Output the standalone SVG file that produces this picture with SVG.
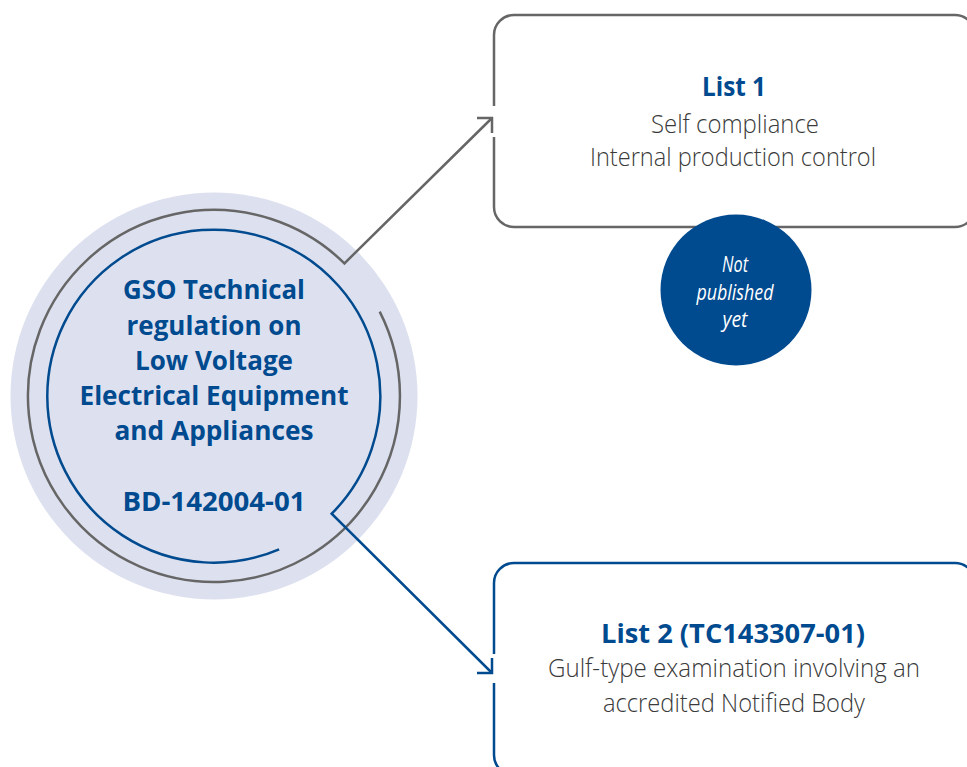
<svg xmlns="http://www.w3.org/2000/svg" width="967" height="767" viewBox="0 0 967 767">
<style>
  .bold{font-family:"Open Sans","Noto Sans",sans-serif;font-weight:700;fill:#004a8f;text-anchor:middle}
  .body{font-family:"Open Sans","Noto Sans",sans-serif;font-weight:300;fill:#3a3a3a;text-anchor:middle}
  .note{font-family:"Open Sans","Noto Sans",sans-serif;font-style:italic;fill:#ffffff;text-anchor:middle}
  .grayln{fill:none;stroke:#666666;stroke-width:2.5}
  .blueln{fill:none;stroke:#004a8f;stroke-width:2.5}
</style>
<rect width="967" height="767" fill="#ffffff"/>
<g id="main-circle">
  <circle cx="214" cy="396" r="203.5" fill="#dde1ef"/>
  <g font-size="27">
    <text class="bold" x="214" y="299" textLength="182" lengthAdjust="spacingAndGlyphs">GSO Technical</text>
    <text class="bold" x="214" y="335" textLength="175" lengthAdjust="spacingAndGlyphs">regulation on</text>
    <text class="bold" x="214" y="370" textLength="158" lengthAdjust="spacingAndGlyphs">Low Voltage</text>
    <text class="bold" x="214" y="405" textLength="269" lengthAdjust="spacingAndGlyphs">Electrical Equipment</text>
    <text class="bold" x="214" y="440" textLength="199" lengthAdjust="spacingAndGlyphs">and Appliances</text>
    <text class="bold" x="214" y="511" textLength="183" lengthAdjust="spacingAndGlyphs">BD-142004-01</text>
  </g>
</g>
<g id="list1">
  <path class="grayln" d="M494,106 V35 A20,20 0 0 1 514,15 H955 A20,20 0 0 1 975,35 V207 A20,20 0 0 1 955,227 H514 A20,20 0 0 1 494,207 V137"/>
  <text class="bold" x="734" y="96" font-size="27" textLength="64" lengthAdjust="spacingAndGlyphs">List 1</text>
  <text class="body" x="735" y="133" font-size="26" textLength="168" lengthAdjust="spacingAndGlyphs">Self compliance</text>
  <text class="body" x="733" y="166" font-size="26" textLength="286" lengthAdjust="spacingAndGlyphs">Internal production control</text>
</g>
<g id="not-published">
  <circle cx="736" cy="290" r="75.5" fill="#004a8f"/>
  <text class="note" x="735" y="272" font-size="22" textLength="26" lengthAdjust="spacingAndGlyphs">Not</text>
  <text class="note" x="735" y="299.5" font-size="22" textLength="77" lengthAdjust="spacingAndGlyphs">published</text>
  <text class="note" x="735" y="327" font-size="22" textLength="25" lengthAdjust="spacingAndGlyphs">yet</text>
</g>
<g id="list2">
  <path class="blueln" d="M494,654 V583 A20,20 0 0 1 514,563 H955 A20,20 0 0 1 975,583 V790 M494,683 V755 A20,20 0 0 0 514,775"/>
  <text class="bold" x="733" y="643" font-size="27" textLength="264" lengthAdjust="spacingAndGlyphs">List 2 (TC143307-01)</text>
  <text class="body" x="734" y="677" font-size="26" textLength="372" lengthAdjust="spacingAndGlyphs">Gulf-type examination involving an</text>
  <text class="body" x="734" y="712" font-size="26" textLength="262" lengthAdjust="spacingAndGlyphs">accredited Notified Body</text>
</g>
<g id="connectors">
  <path class="grayln" d="M379.7,311.6 A186,186 0 1 1 344.4,263.4 L492,118"/>
  <path class="grayln" d="M477,118 H492 V133"/>
  <path class="blueln" d="M279.1,549.3 A166.5,166.5 0 1 1 331.7,513.7 L492,673"/>
  <path class="blueln" d="M477,673 H492 V658"/>
</g>
</svg>
